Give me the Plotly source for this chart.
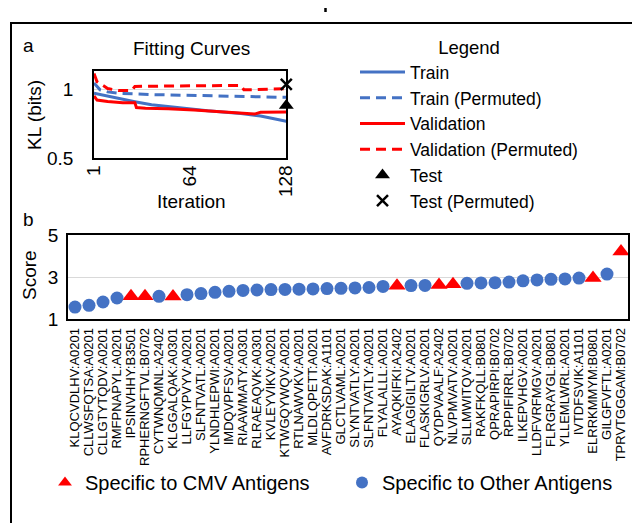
import plotly.graph_objects as go

W, H = 640, 523
FONT = "Liberation Sans, Arial, sans-serif"
BLUE = "#4472C4"
RED = "#FF0000"

# ---------------- Panel a: fitting curves ----------------
train_iter = [1, 5, 10, 17, 28, 39, 50, 67, 76, 98, 111, 128]
train_kl = [0.975, 0.965, 0.955, 0.935, 0.913, 0.890, 0.876, 0.856, 0.846, 0.826, 0.808, 0.770]

train_perm_iter = [1, 5, 10, 17, 40, 67, 98, 128]
train_perm_kl = [1.050, 1.000, 0.985, 0.975, 0.965, 0.958, 0.952, 0.945]

val_iter = [1, 3, 10, 20, 28, 29, 35, 50, 67, 76, 90, 100, 107, 111, 128]
val_kl = [0.955, 0.925, 0.915, 0.905, 0.905, 0.870, 0.865, 0.862, 0.852, 0.845, 0.835, 0.828, 0.822, 0.835, 0.838]

val_perm_iter = [1, 3, 10, 17, 26, 28, 50, 98, 100, 128]
val_perm_kl = [1.120, 1.060, 1.010, 0.995, 0.995, 1.025, 1.028, 1.032, 1.000, 1.008]

test_iter = [128]
test_kl = [0.885]
test_perm_iter = [128]
test_perm_kl = [1.040]

iter_ticks = [1, 64, 128]
kl_ticks = [0.5, 1]
kl_tick_text = ["0.5", "1"]

# ---------------- Panel b: scores per peptide ----------------
peptides = [
    "KLQCVDLHV:A0201", "CLLWSFQTSA:A0201", "CLLGTYTQDV:A0201", "RMFPNAPYL:A0201",
    "IPSINVHHY:B3501", "RPHERNGFTVL:B0702", "CYTWNQMNL:A2402", "KLGGALQAK:A0301",
    "LLFGYPVYV:A0201", "SLFNTVATL:A0201", "YLNDHLEPWI:A0201", "IMDQVPFSV:A0201",
    "RIAAWMATY:A0301", "RLRAEAQVK:A0301", "KVLEYVIKV:A0201", "KTWGQYWQV:A0201",
    "RTLNAWVKV:A0201", "MLDLQPETT:A0201", "AVFDRKSDAK:A1101", "GLCTLVAML:A0201",
    "SLYNTVATLY:A0201", "SLFNTVATLY:A0201", "FLYALALLL:A0201", "AYAQKIFKI:A2402",
    "ELAGIGILTV:A0201", "FLASKIGRLV:A0201", "QYDPVAALF:A2402", "NLVPMVATV:A0201",
    "SLLMWITQV:A0201", "RAKFKQLL:B0801", "QPRAPIRPI:B0702", "RPPIFIRRL:B0702",
    "ILKEPVHGV:A0201", "LLDFVRFMGV:A0201", "FLRGRAYGL:B0801", "YLLEMLWRL:A0201",
    "IVTDFSVIK:A1101", "ELRRKMMYM:B0801", "GILGFVFTL:A0201", "TPRVTGGGAM:B0702",
]
scores = [
    1.57, 1.65, 1.81, 2.00, 2.08, 2.08, 2.08, 2.07, 2.16, 2.21,
    2.27, 2.32, 2.36, 2.38, 2.40, 2.41, 2.42, 2.43, 2.45, 2.46,
    2.48, 2.50, 2.55, 2.58, 2.59, 2.60, 2.62, 2.66, 2.70, 2.72,
    2.73, 2.76, 2.82, 2.86, 2.89, 2.91, 2.95, 2.95, 3.14, 4.22,
]
is_cmv = [
    0, 0, 0, 0, 1, 1, 0, 1, 0, 0,
    0, 0, 0, 0, 0, 0, 0, 0, 0, 0,
    0, 0, 0, 1, 0, 0, 1, 1, 0, 0,
    0, 0, 0, 0, 0, 0, 0, 1, 0, 1,
]
score_ticks = [1, 3, 5]

cmv_x = [p for p, c in zip(peptides, is_cmv) if c]
cmv_y = [s for s, c in zip(scores, is_cmv) if c]
oth_x = [p for p, c in zip(peptides, is_cmv) if not c]
oth_y = [s for s, c in zip(scores, is_cmv) if not c]


def px(x):
    return x / W


def py(y):
    return 1 - y / H


fig = go.Figure()
line_w = 3
fig.add_trace(go.Scatter(x=train_iter, y=train_kl, mode="lines", name="Train",
                         line=dict(color=BLUE, width=line_w), legend="legend"))
fig.add_trace(go.Scatter(x=train_perm_iter, y=train_perm_kl, mode="lines", name="Train (Permuted)",
                         line=dict(color=BLUE, width=line_w, dash="10px,6px"), legend="legend"))
fig.add_trace(go.Scatter(x=val_iter, y=val_kl, mode="lines", name="Validation",
                         line=dict(color=RED, width=line_w), legend="legend"))
fig.add_trace(go.Scatter(x=val_perm_iter, y=val_perm_kl, mode="lines", name="Validation (Permuted)",
                         line=dict(color=RED, width=line_w, dash="10px,6px"), legend="legend"))
fig.add_trace(go.Scatter(x=test_iter, y=test_kl, mode="markers", name="Test", cliponaxis=False,
                         marker=dict(symbol="triangle-up", color="black", size=13), legend="legend"))
fig.add_trace(go.Scatter(x=test_perm_iter, y=test_perm_kl, mode="markers", name="Test (Permuted)",
                         cliponaxis=False,
                         marker=dict(symbol="x-thin-open", size=11, color="black",
                                     line=dict(color="black", width=2.5)),
                         legend="legend"))

fig.add_trace(go.Scatter(x=cmv_x, y=cmv_y, mode="markers", name="Specific to CMV Antigens",
                         xaxis="x2", yaxis="y2", cliponaxis=False,
                         marker=dict(symbol="triangle-up", color=RED, size=15), legend="legend2"))
fig.add_trace(go.Scatter(x=oth_x, y=oth_y, mode="markers", name="Specific to Other Antigens",
                         xaxis="x2", yaxis="y2", cliponaxis=False,
                         marker=dict(symbol="circle", color=BLUE, size=13), legend="legend2"))

axis_common = dict(showline=True, mirror=True, linecolor="black", linewidth=1.5,
                   zeroline=False, ticks="", automargin=False,
                   tickfont=dict(family=FONT, size=19, color="black"))

fig.update_layout(
    width=W, height=H, template="none",
    margin=dict(l=0, r=0, t=0, b=0),
    paper_bgcolor="white", plot_bgcolor="white",
    font=dict(family=FONT, size=19, color="black"),
    xaxis=dict(axis_common, domain=[px(86), px(278.3)], range=[1, 128],
               tickvals=iter_ticks, tickangle=-90, showgrid=False, anchor="y",
               ticklabelstandoff=-2),
    yaxis=dict(axis_common, domain=[py(150), py(63.3)], range=[0.5, 1.136],
               tickvals=kl_ticks, ticktext=kl_tick_text, showgrid=True,
               gridcolor="#d9d9d9", gridwidth=1, anchor="x", ticklabelstandoff=15),
    xaxis2=dict(axis_common, domain=[px(60), px(620)], range=[-0.5, 39.5],
                type="category", categoryorder="array", categoryarray=peptides,
                tickmode="linear", tick0=0, dtick=1,
                tickangle=-90, showgrid=False, anchor="y2",
                tickfont=dict(family=FONT, size=13, color="black"), ticklabelstandoff=2),
    yaxis2=dict(axis_common, domain=[py(311), py(227)], range=[1, 5],
                tickvals=score_ticks, showgrid=True, gridcolor="#d9d9d9", gridwidth=1,
                anchor="x2", ticklabelstandoff=4),
    legend=dict(x=px(347), y=py(22), xanchor="left", yanchor="top",
                orientation="v", itemwidth=45, bgcolor="rgba(0,0,0,0)",
                font=dict(family=FONT, size=17.5, color="black"),
                title=dict(text="Legend", side="top center",
                           font=dict(family=FONT, size=18.5, color="black"))),
    legend2=dict(x=px(37), y=py(455), xanchor="left", yanchor="top",
                 orientation="h", entrywidthmode="pixels", entrywidth=252,
                 itemsizing="constant", bgcolor="rgba(0,0,0,0)",
                 font=dict(family=FONT, size=20, color="black")),
    showlegend=True,
)

annots = [
    ("a", 20, 37, 0, "center"),
    ("Fitting Curves", 183, 41, 0, "center"),
    ("Iteration", 183, 193, 0, "center"),
    ("KL (bits)", 27, 107, -90, "center"),
    ("b", 20, 212, 0, "center"),
    ("Score", 21, 267, -90, "center"),
]
for text, x, y, ang, xa in annots:
    fig.add_annotation(text=text, x=px(x), y=py(y), xref="paper", yref="paper",
                       showarrow=False, textangle=ang, xanchor=xa, yanchor="middle",
                       font=dict(family=FONT, size=19, color="black"))

# outer frame of the figure (its bottom edge lies outside the picture)
fig.add_shape(type="rect", xref="paper", yref="paper", x0=px(3), x1=px(636),
              y0=-0.05, y1=py(15), line=dict(color="black", width=2), layer="above")
# clipped fragment of a caption above the frame
fig.add_shape(type="line", xref="paper", yref="paper", x0=px(317.5), x1=px(317.5),
              y0=1.0, y1=py(4), line=dict(color="black", width=2.5))

fig.write_html("out.html")
